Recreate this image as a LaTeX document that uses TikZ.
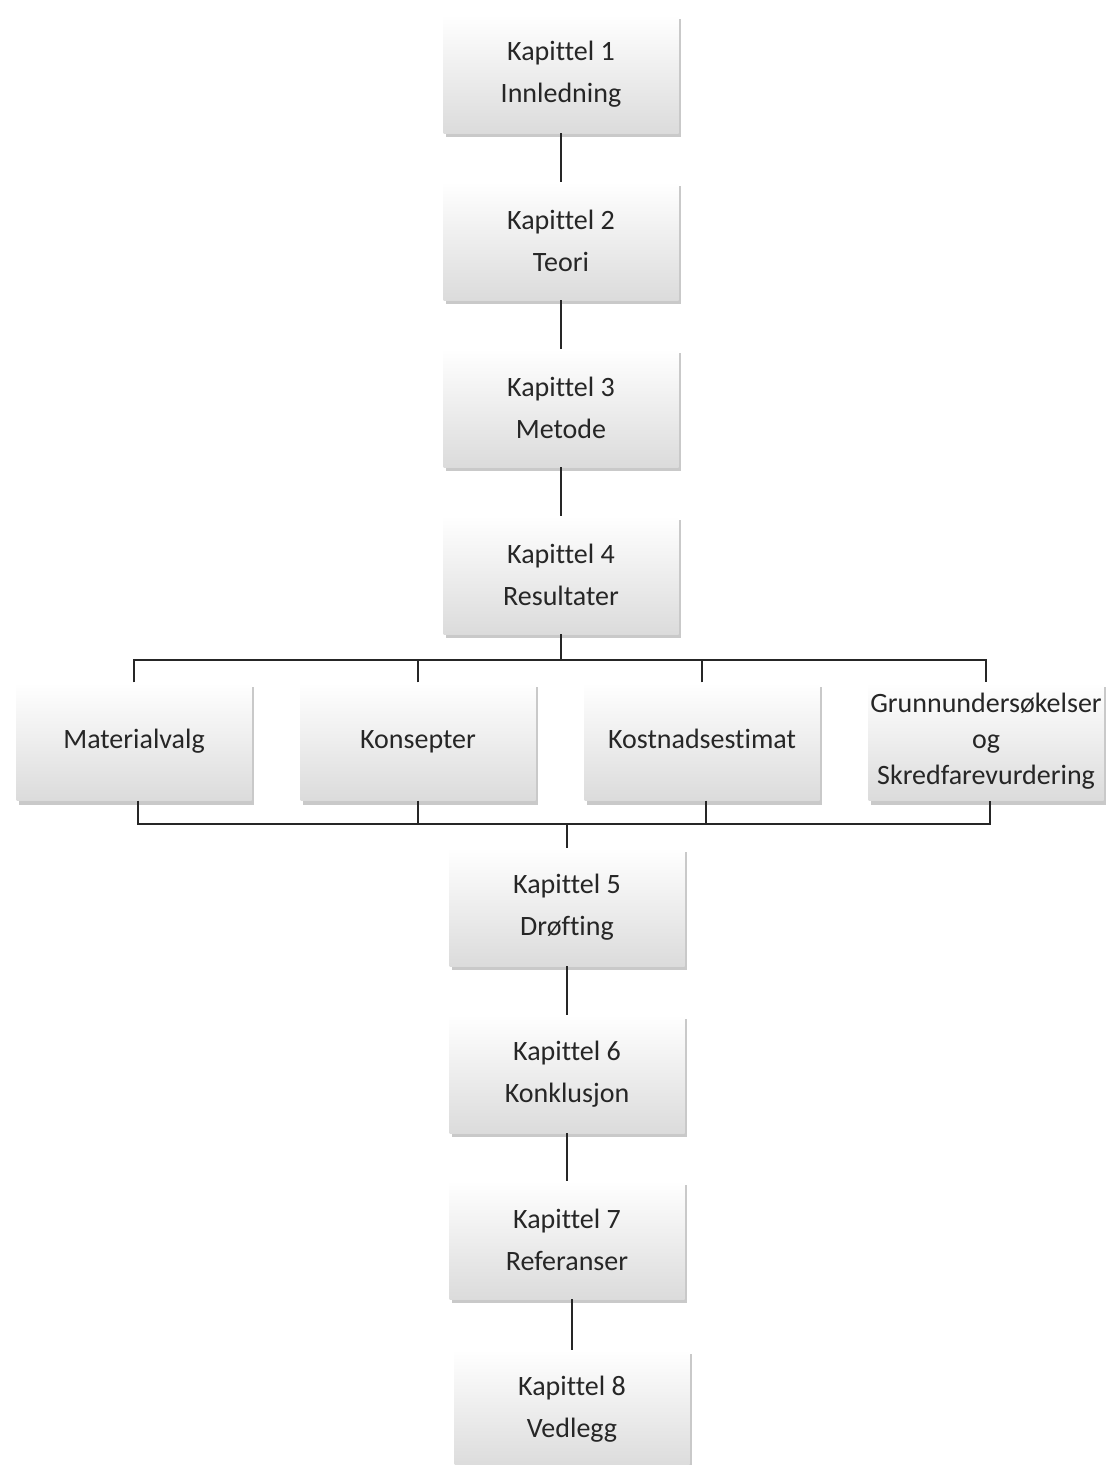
\documentclass[tikz,border=0pt]{standalone}
\usepackage{fontspec}
\setmainfont[Ligatures=NoCommon]{Carlito}
\usetikzlibrary{shadows}
\begin{document}
\begin{tikzpicture}[x=1pt,y=-1pt,
  box/.style={rectangle, minimum width=235pt, minimum height=118pt, inner sep=0pt,
    top color=white, bottom color=black!14, draw=none,
    drop shadow={shadow xshift=2pt, shadow yshift=-4pt, opacity=0.35, fill=black!60},
    font=\fontsize{28}{42}\selectfont, align=center, text=black!85},
  one/.style={text height=20pt, text depth=6pt},
  conn/.style={line width=1.6pt, draw=black!85}]
\useasboundingbox[fill=white] (0,0) rectangle (1109,1465);
\node[box] (k1) at (561,74) {Kapittel 1\\Innledning};
\node[box] (k2) at (561,241) {Kapittel 2\\Teori};
\node[box] (k3) at (561,408) {Kapittel 3\\Metode};
\node[box] (k4) at (561,575) {Kapittel 4\\Resultater};
\node[box, one] (m1) at (134,741.5) {Materialvalg};
\node[box, one] (m2) at (418,741.5) {Konsepter};
\node[box, one] (m3) at (702,741.5) {Kostnadsestimat};
\node[box, font=\fontsize{28}{36}\selectfont] (m4) at (986,741.5) {Grunnundersøkelser\\og\\Skredfarevurdering};
\node[box] (k5) at (567,907) {Kapittel 5\\Drøfting};
\node[box] (k6) at (567,1074) {Kapittel 6\\Konklusjon};
\node[box] (k7) at (567,1240) {Kapittel 7\\Referanser};
\node[box] (k8) at (572,1409) {Kapittel 8\\Vedlegg};
\coordinate (tb) at (561,660);
\coordinate (bb) at (567,824);
\draw[conn] (k1) -- (k2);
\draw[conn] (k2) -- (k3);
\draw[conn] (k3) -- (k4);
\draw[conn] (k4.south) -- (tb);
\draw[conn] (m1.north) -- (m1.north |- tb) -- (m4.north |- tb) -- (m4.north);
\draw[conn] (m2.north) -- (m2.north |- tb);
\draw[conn] (m3.north) -- (m3.north |- tb);
\draw[conn] ([xshift=4pt]m1.south) -- ([xshift=4pt]m1.south |- bb) -- ([xshift=4pt]m4.south |- bb) -- ([xshift=4pt]m4.south);
\draw[conn] (m2.south) -- (m2.south |- bb);
\draw[conn] ([xshift=4pt]m3.south) -- ([xshift=4pt]m3.south |- bb);
\draw[conn] (bb) -- (k5.north);
\draw[conn] (k5) -- (k6);
\draw[conn] (k6) -- (k7);
\draw[conn] ([xshift=5pt]k7.south) -- (k8.north);
\end{tikzpicture}
\end{document}
